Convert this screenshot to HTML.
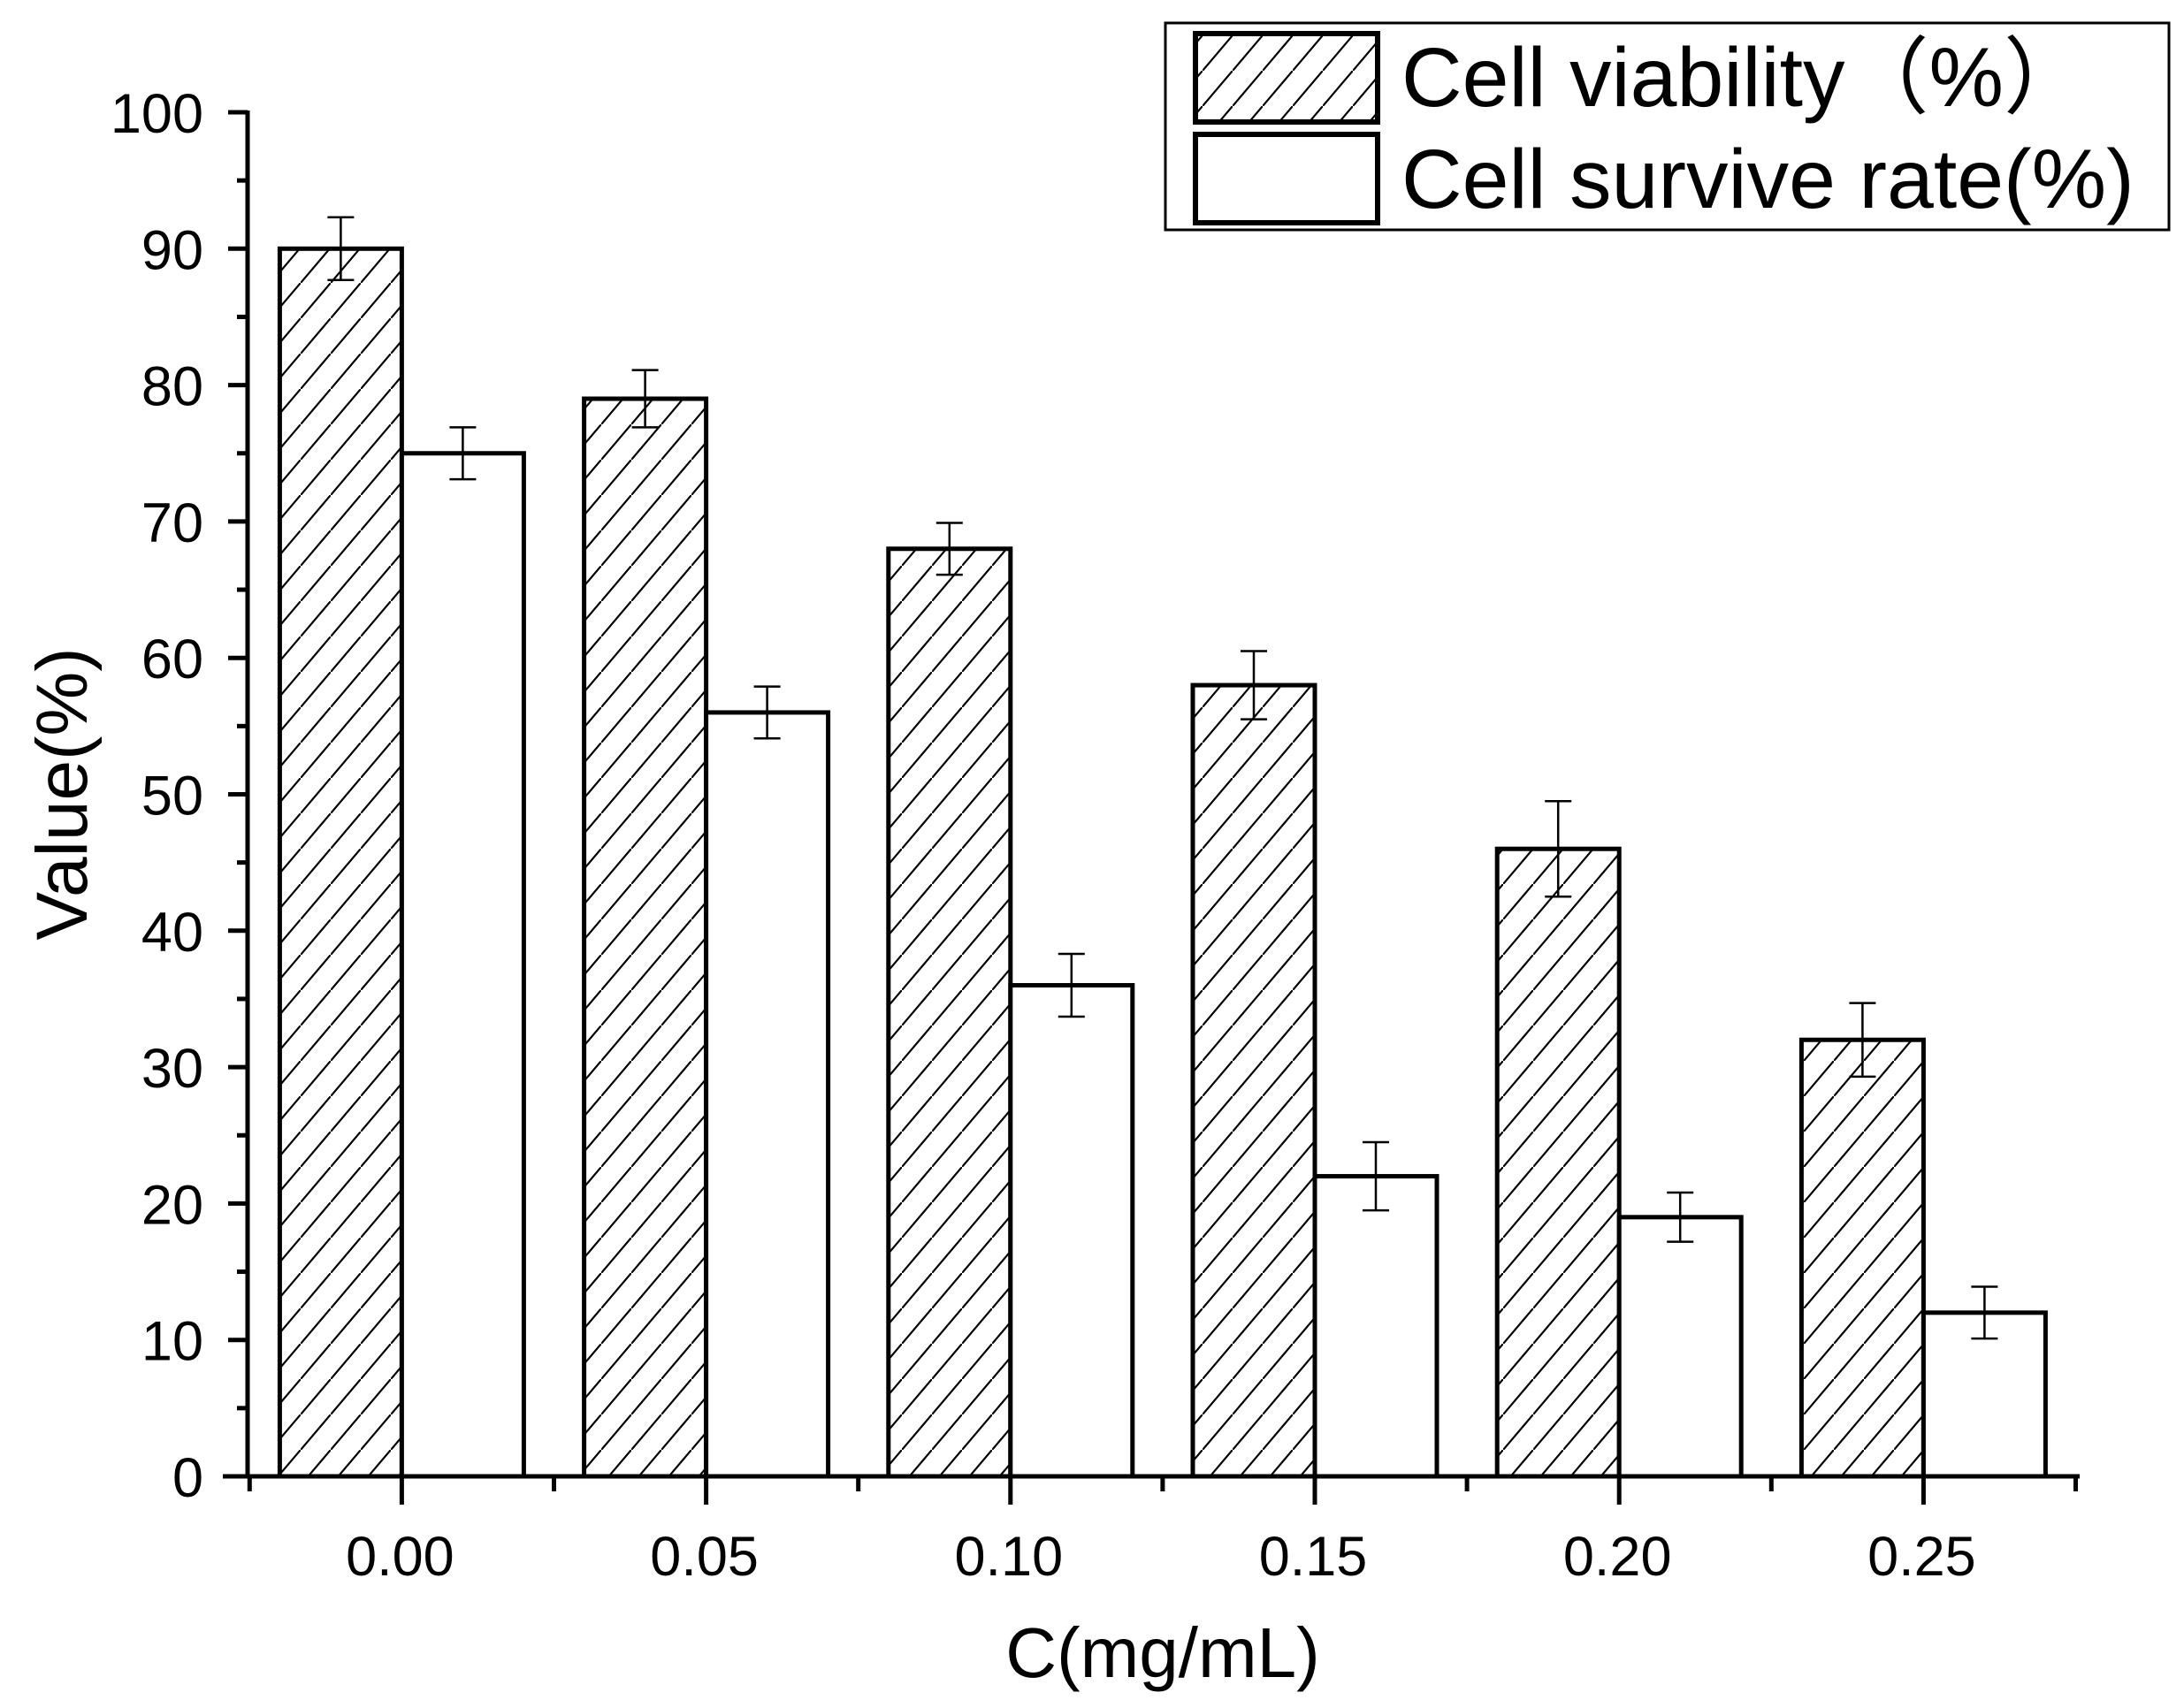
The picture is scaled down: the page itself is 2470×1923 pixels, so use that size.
<!DOCTYPE html>
<html><head><meta charset="utf-8"><style>
html,body{margin:0;padding:0;background:#fff}
svg{display:block}
text{font-family:"Liberation Sans",Arial,sans-serif;fill:#000}
</style></head><body>
<svg id="chart" width="2470" height="1923" viewBox="0 0 2470 1923">
<defs>
<pattern id="hatch" patternUnits="userSpaceOnUse" width="34" height="40">
<line x1="-2" y1="42.4" x2="36" y2="-2.4" stroke="#000" stroke-width="2.2"/>
</pattern>
</defs>
<g id="plot"></g>
<g>
<rect x="1318" y="26" width="1135" height="234" fill="#fff" stroke="#000" stroke-width="3"/>
<rect x="1352" y="38" width="206" height="100" fill="url(#hatch)" stroke="#000" stroke-width="6"/>
<text x="1585" y="120" font-size="95">Cell viability（%）</text>
<rect x="1352" y="152" width="206" height="100" fill="#fff" stroke="#000" stroke-width="6"/>
<text x="1585" y="235" font-size="95">Cell survive rate(%)</text>
</g>
<text x="1315" y="1897" font-size="80" text-anchor="middle">C(mg/mL)</text>
<text transform="translate(98,898) rotate(-90)" font-size="82" text-anchor="middle">Value(%)</text>
</svg>
<script>
const categories = ["0.00","0.05","0.10","0.15","0.20","0.25"];
const viability = [90,79,68,58,46,32];
const viabilityErr = [2.3,2.1,1.9,2.5,3.5,2.7];
const survive = [75,56,36,22,19,12];
const surviveErr = [1.9,1.9,2.3,2.5,1.8,1.9];
const yTicks = [0,10,20,30,40,50,60,70,80,90,100];

const NS="http://www.w3.org/2000/svg";
const g=document.getElementById('plot');
const X0=280, X1=2352, Y0=1670, Y100=127;
const step=344.2, first=454.4, bw=138;
function y(v){return Y0-(v/100)*(Y0-Y100);}
function xc(i){return first+i*step;}
function mk(tag,attrs){const e=document.createElementNS(NS,tag);for(const k in attrs)e.setAttribute(k,attrs[k]);g.appendChild(e);return e;}

categories.forEach((c,i)=>{
  const xm=xc(i);
  let r=mk('rect',{x:xm-bw,y:y(viability[i]),width:bw,height:Y0-y(viability[i]),fill:'url(#hatch)',stroke:'#000','stroke-width':5});
  
  
  r=mk('rect',{x:xm,y:y(survive[i]),width:bw,height:Y0-y(survive[i]),fill:'#fff',stroke:'#000','stroke-width':5});
  
  
  [[xm-bw/2,viability[i],viabilityErr[i],'viability'],[xm+bw/2,survive[i],surviveErr[i],'survive']].forEach(([ex,v,e,n])=>{
    const p=mk('path',{d:`M${ex},${y(v+e)}V${y(v-e)}M${ex-15},${y(v+e)}H${ex+15}M${ex-15},${y(v-e)}H${ex+15}`,stroke:'#000','stroke-width':2.5,fill:'none'});
    
    
  });
});
let a=mk('line',{x1:X0,y1:Y100-2,x2:X0,y2:Y0+2,stroke:'#000','stroke-width':5});


a=mk('line',{x1:X0-28,y1:Y0,x2:X1,y2:Y0,stroke:'#000','stroke-width':5});


yTicks.forEach(t=>{
  let l=mk('line',{x1:X0-22,y1:y(t),x2:X0,y2:y(t),stroke:'#000','stroke-width':5});
  
  
  if(t<100){l=mk('line',{x1:X0-12,y1:y(t+5),x2:X0,y2:y(t+5),stroke:'#000','stroke-width':5});
  
  }
  const tx=mk('text',{x:X0-50,y:y(t)+23,'font-size':63,'text-anchor':'end'});
  tx.textContent=t;
  
  
});
categories.forEach((c,i)=>{
  let l=mk('line',{x1:xc(i),y1:Y0,x2:xc(i),y2:Y0+32,stroke:'#000','stroke-width':5});
  
  
  const tx=mk('text',{x:xc(i)-2,y:Y0+112,'font-size':63,'text-anchor':'middle'});
  tx.textContent=c;
  
  
});
for(let i=0;i<=categories.length;i++){
  const mx=xc(i)-step/2;
  const l=mk('line',{x1:mx,y1:Y0,x2:mx,y2:Y0+17,stroke:'#000','stroke-width':5});
  
  
}
</script>
</body></html>
